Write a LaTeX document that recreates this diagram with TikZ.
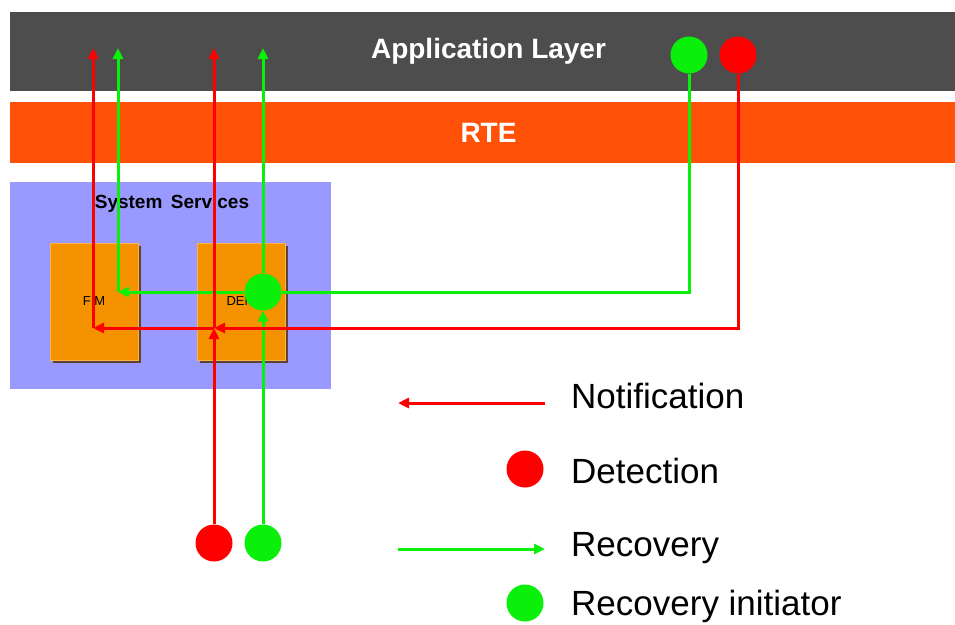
\documentclass[tikz,border=0pt]{standalone}
\usepackage{fontspec}
\setmainfont{Liberation Sans}
\usetikzlibrary{arrows.meta,shadows}

\definecolor{applayer}{RGB}{77,77,77}
\definecolor{rtebar}{RGB}{255,82,8}
\definecolor{syssrv}{RGB}{153,153,255}
\definecolor{module}{RGB}{245,146,0}
\definecolor{notif}{RGB}{255,0,0}
\definecolor{recov}{RGB}{10,240,10}

\tikzset{
  bar/.style={shape=rectangle,minimum width=957pt,inner sep=0pt,text=white,font=\fontsize{28}{30}\selectfont\bfseries},
  modbox/.style={shape=rectangle,fill=module,draw=module!70!white,line width=0.8pt,minimum width=88pt,minimum height=117pt,font=\fontsize{13}{15}\selectfont,drop shadow={shadow xshift=3pt,shadow yshift=-3pt,fill=black!55!brown,opacity=0.9}},
  dot/.style={shape=circle,minimum size=37pt,inner sep=0pt},
  keytext/.style={anchor=base west,inner sep=0pt,font=\fontsize{35}{38}\selectfont},
  notiline/.style={draw=notif,line width=3pt,-{Triangle[length=11pt,width=10pt]}},
  recline/.style={draw=recov,line width=3pt,-{Triangle[length=11pt,width=10pt]}},
}

\begin{document}
\begin{tikzpicture}[x=1pt,y=-1pt]
   \useasboundingbox (0,0) rectangle (955,624);

   % layers
   \node[bar,fill=applayer,minimum height=79pt] (app) at (488.5,51.5) {Application Layer};
   \node[bar,fill=rtebar,minimum height=61pt] (rte) at (488.5,132.5) {RTE};
   \node[shape=rectangle,fill=syssrv,minimum width=321pt,minimum height=207pt] (sys) at (170.5,285.5) {};
   \node[anchor=base,inner sep=0pt,font=\fontsize{19}{21}\selectfont\bfseries] (syslabel) at (172,208) {System\hspace{0.45em}Services};
   \node[modbox] (fim) at (94,301.5) {FIM};
   \node[modbox] (dem) at (241,301.5) {DEM};

   % circles
   \node[dot,fill=recov] (recApp) at (689,55) {};
   \node[dot,fill=notif] (detApp) at (738,55) {};
   \node[dot,fill=notif] (detBot) at (214,543) {};
   \node[dot,fill=recov] (recBot) at (263,543) {};
   \node[dot,fill=recov] (recDem) at (263,292) {};

   \coordinate (fimGrn) at (118,292);
   \coordinate (fimRed) at (93,328);
   \coordinate (demRed) at (214,328);
   \coordinate (topRed1) at (93,48);
   \coordinate (topGrn1) at (118,48);
   \coordinate (topRed2) at (214,48);
   \coordinate (topGrn2) at (263,48);

   % recovery
   \draw[recline,-] (recApp) |- (recDem.east);
   \draw[recline] (recDem.west) -- (fimGrn);
   \draw[recline] (fimGrn) -- (topGrn1);
   \draw[recline] (recBot) -- (recDem);
   \draw[recline] (recDem) -- (topGrn2);

   % notification
   \draw[notiline] (detApp) |- (demRed);
   \draw[notiline] (demRed) -- (fimRed);
   \draw[notiline] (fimRed) -- (topRed1);
   \draw[notiline] (detBot) -- (demRed);
   \draw[notiline] (demRed) -- (topRed2);

   % legend
   \coordinate (notifFrom) at (545,403);
   \coordinate (notifTo) at (398,403);
   \coordinate (recFrom) at (398,549);
   \coordinate (recTo) at (545,549);
   \node[dot,fill=notif] (detKey) at (525,469) {};
   \node[dot,fill=recov] (recKey) at (525,603) {};
   \draw[notiline] (notifFrom) -- (notifTo);
   \draw[recline] (recFrom) -- (recTo);
   \node[keytext] (notifText) at (571,408) {Notification};
   \node[keytext] (detText) at (571,483) {Detection};
   \node[keytext] (recText) at (571,556) {Recovery};
   \node[keytext] (initText) at (571,615) {Recovery initiator};
\end{tikzpicture}
\end{document}
